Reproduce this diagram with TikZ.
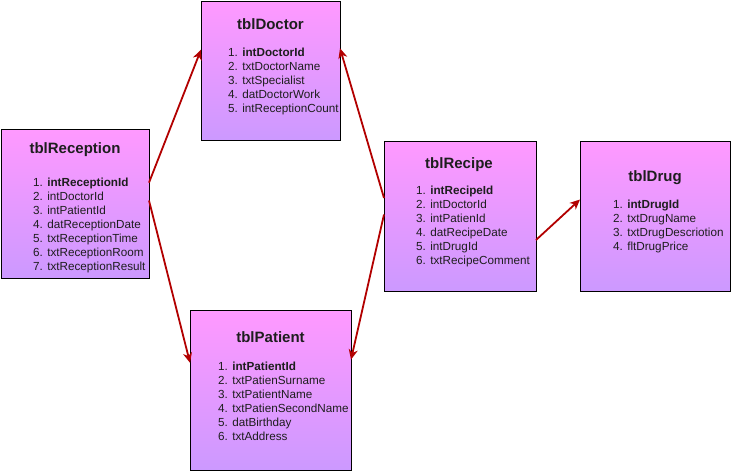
\documentclass[tikz,border=0pt]{standalone}
\usepackage{fontspec}
\setmainfont{Liberation Sans}
\usetikzlibrary{arrows.meta,calc}
\definecolor{boxtop}{RGB}{255,153,255}
\definecolor{boxbot}{RGB}{204,153,255}
\definecolor{linkred}{RGB}{178,0,0}
\definecolor{txt}{RGB}{30,30,30}
\tikzset{
  tblbox/.style={draw=black, line width=1pt, top color=boxtop, bottom color=boxbot,
    rectangle, inner sep=0pt, outer sep=0pt, anchor=north west},
  tbltitle/.style={font=\fontsize{15}{18}\selectfont\bfseries, text=txt, anchor=base, inner sep=0pt},
  tblitem/.style={font=\fontsize{11.7}{14}\selectfont, text=txt, anchor=base west, inner sep=0pt},
  link/.style={draw=linkred, line width=1.8pt, -{Stealth[length=10pt,width=9pt,inset=3pt]}}
}
\newcommand{\tblitems}[4]{% prefix, x, first baseline y, list
  \foreach \it [count=\i] in {#4}{
    \node[tblitem] (#1\i) at (#2,{#3+14*(\i-1)}) {\i. \it};
  }}
\begin{document}
\begin{tikzpicture}[x=1pt,y=-1pt]
\useasboundingbox (0,0) rectangle (731,471);
% boxes
\node[tblbox, minimum width=139pt, minimum height=139pt] (doc) at (201,1) {};
\node[tblbox, minimum width=148pt, minimum height=149pt] (rec) at (1,129) {};
\node[tblbox, minimum width=152pt, minimum height=150pt] (rcp) at (384,141) {};
\node[tblbox, minimum width=150pt, minimum height=150pt] (drg) at (580,141) {};
\node[tblbox, minimum width=161pt, minimum height=160pt] (pat) at (190,310) {};
% titles
\node[tbltitle] (docT) at (270.5,29.5) {tblDoctor};
\node[tbltitle] (recT) at (75,153) {tblReception};
\node[tbltitle] (rcpT) at (459,168) {tblRecipe};
\node[tbltitle] (drgT) at (655,181) {tblDrug};
\node[tbltitle] (patT) at (270.5,342) {tblPatient};
% items
\tblitems{docI}{228}{56}{\textbf{intDoctorId},txtDoctorName,txtSpecialist,datDoctorWork,intReceptionCount}
\tblitems{recI}{33}{186}{\textbf{intReceptionId},intDoctorId,intPatientId,datReceptionDate,txtReceptionTime,txtReceptionRoom,txtReceptionResult}
\tblitems{rcpI}{416}{194}{\textbf{intRecipeId},intDoctorId,intPatienId,datRecipeDate,intDrugId,txtRecipeComment}
\tblitems{drgI}{613}{208}{\textbf{intDrugId},txtDrugName,txtDrugDescriotion,fltDrugPrice}
\tblitems{patI}{218}{370}{\textbf{intPatientId},txtPatienSurname,txtPatientName,txtPatienSecondName,datBirthday,txtAddress}
% connectors
\draw[link] ($(rec.north east)!0.36!(rec.south east)$) -- ($(doc.north west)!0.35!(doc.south west)$);
\draw[link] ($(rec.north east)!0.48!(rec.south east)$) -- ($(pat.north west)!0.33!(pat.south west)$);
\draw[link] ($(rcp.north west)!0.38!(rcp.south west)$) -- ($(doc.north east)!0.34!(doc.south east)$);
\draw[link] ($(rcp.north west)!0.49!(rcp.south west)$) -- ($(pat.north east)!0.31!(pat.south east)$);
\draw[link] ($(rcp.north east)!0.66!(rcp.south east)$) -- ($(drg.north west)!0.39!(drg.south west)$);
\end{tikzpicture}
\end{document}
